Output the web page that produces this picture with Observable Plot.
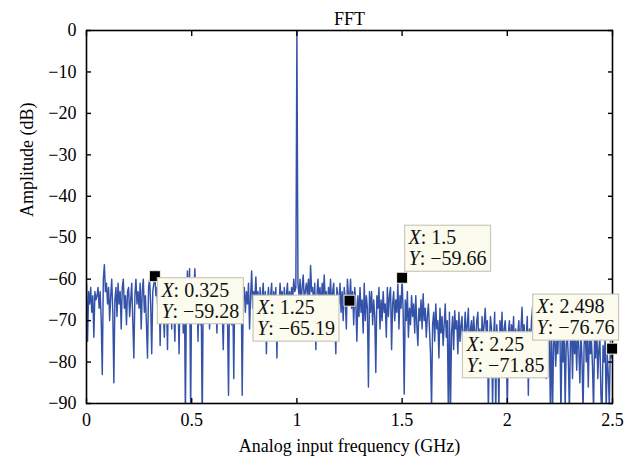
<!DOCTYPE html>
<html>
<head>
<meta charset="utf-8">
<script src="https://cdn.jsdelivr.net/npm/d3@7"></script>
<script src="https://cdn.jsdelivr.net/npm/@observablehq/plot@0.6"></script>
<style>
  body { margin: 0; background: #fff; }
  #chart svg { display: block; }
</style>
</head>
<body>
<div id="chart"></div>
<script>
// ---------- data ----------
const chartTitle = "FFT";
const xLabel = "Analog input frequency (GHz)";
const yLabel = "Amplitude (dB)";
const xTicks = [0, 0.5, 1, 1.5, 2, 2.5];
const yTicks = [0, -10, -20, -30, -40, -50, -60, -70, -80, -90];

// FFT bin spacing (GHz) of the values below, starting at 0 GHz
const binStep = 0.005;
// amplitude (dB) per bin
const amplitude = [
  -61, -75, -63, -66, -62, -68, -64, -74, -63, -65,
  -64, -62, -67, -63, -70, -83, -60, -56.5, -63, -61,
  -66, -62, -70, -64, -60, -68, -85, -65, -62, -69,
  -61, -66, -63, -72, -62, -60, -67, -64, -71, -63,
  -62, -69, -65, -61, -70, -79, -64, -60, -66, -63,
  -67, -61, -72, -63, -60, -68, -64, -71, -79, -62,
  -60, -66, -78, -63, -61, -59.28, -64, -62, -69, -61,
  -76, -63, -60, -68, -74, -62, -65, -77, -61, -66,
  -63, -72, -60, -67, -75, -62, -69, -64, -78, -61,
  -66, -62, -73, -60, -93, -64, -58, -70, -57.5, -92,
  -61, -68, -63, -57.5, -66, -62, -75, -60, -71, -64,
  -95, -62, -67, -61, -70, -63, -66, -72, -62, -65,
  -63, -68, -61, -66, -73, -62, -64, -70, -60, -67,
  -77, -63, -65, -61, -69, -88, -62, -66, -71, -63,
  -84, -61, -67, -64, -62, -70, -65, -60, -88, -64,
  -62, -68, -63, -66, -61, -72, -64, -58, -67, -63,
  -65, -59.5, -66, -63, -70, -62, -67, -64, -61, -69,
  -63, -78, -65, -62, -68, -64, -61, -70, -63, -66,
  -62, -79, -64, -67, -61, -65, -63, -69, -62, -66,
  -64, -61, -67, -63, -66, -62, -65, -60, -63, -62,
  0, -61, -64, -60, -66, -62, -59, -65, -63, -61,
  -64, -60, -66, -56.7, -63, -62, -67, -61, -77, -64,
  -60, -65, -62, -68, -61, -64, -59, -66, -63, -70,
  -62, -65, -60, -67, -63, -61, -69, -78, -62, -64,
  -66, -61, -68, -63, -70, -62, -65, -72, -60, -64,
  -65.19, -60, -67, -63, -71, -62, -66, -75, -64, -69,
  -62, -68, -65, -73, -61, -70, -64, -67, -86, -63,
  -68, -63, -71, -65, -69, -82.5, -64, -67, -62, -72,
  -65, -70, -63, -68, -66, -74, -62, -69, -64, -62,
  -77, -66, -63, -70, -65, -68, -61, -72, -64, -67,
  -59.66, -68, -87.7, -65, -70, -63, -74, -67, -71, -64,
  -69, -66, -73, -64, -71, -76, -67, -70, -65, -72,
  -63.5, -70, -67, -74, -69, -66, -72, -78, -91, -71,
  -68, -75, -66, -72, -70, -79, -67, -73, -69, -76,
  -71, -66, -74, -70, -93, -68, -92, -73, -69, -77,
  -67.6, -72, -70, -78, -68, -75, -71, -69, -80, -73,
  -68, -74, -71, -67, -79, -72, -70, -76, -69, -73,
  -75, -70, -68, -77, -72, -81, -69, -74, -71, -67,
  -73, -70, -92, -75, -69, -72, -91, -74, -68, -93,
  -71, -76, -92, -70, -74, -68, -79, -72, -70, -75,
  -92, -73, -70, -78, -71, -74, -69, -80, -72, -76,
  -73, -70, -78, -72, -66.8, -75, -71, -82, -74, -69,
  -88, -72, -77, -70, -66.8, -79, -74, -71, -83, -73,
  -67, -76, -72, -80, -70, -78, -74, -84, -71, -77,
  -73, -93, -70, -92, -76, -72, -81, -75, -78, -71,
  -71.85, -93, -74, -80, -70, -91, -76, -73, -79, -92,
  -75, -72, -84, -70, -78, -74, -82, -71, -77, -85,
  -73, -79, -92, -76, -71, -80, -74, -86, -72, -78,
  -75, -81, -92, -73, -79, -70, -84, -77, -74, -88,
  -93, -76, -80, -74, -92, -78, -83, -91, -75, -79
];
// last plotted bin
const lastFreq = 2.498;
const lastAmp = -76.76;

// data tips
const tipX = [0.325, 1.25, 1.5, 2.25, 2.498];
const tipY = [-59.28, -65.19, -59.66, -71.85, -76.76];

// ---------- layout / style ----------
const FONT = "Liberation Serif";
const LINE_COLOR = "#3452a8";
// box placement relative to the marker (pixels)
const tipLayout = [
  {h: "left",  dx: 3,   v: "top",    dy: 2},
  {h: "right", dx: -10, v: "top",    dy: -5},
  {h: "left",  dx: 3,   v: "bottom", dy: -6},
  {h: "right", dx: -11, v: "top",    dy: 4},
  {h: "right", dx: 7,   v: "bottom", dy: -8}
];

const series = amplitude.map((a, i) => ({f: +(i * binStep).toFixed(4), a}));
series.push({f: lastFreq, a: lastAmp});
const tips = tipX.map((x, i) => ({x, y: tipY[i]}));

const fmt = v => String(v).replace("-", "\u2212");
const ctx = document.createElement("canvas").getContext("2d");
const TIP_FS = 20;
function textW(str, italic) {
  ctx.font = `${italic ? "italic " : ""}${TIP_FS}px "${FONT}"`;
  return ctx.measureText(str).width;
}

function tipBoxes(index, scales) {
  const g = d3.create("svg:g")
    .attr("font-family", FONT).attr("font-size", TIP_FS).attr("text-anchor", "start");
  tips.forEach((t, i) => {
    const mx = scales.x(t.x), my = scales.y(t.y);
    const lines = [["X", ": " + fmt(t.x)], ["Y", ": " + fmt(t.y)]];
    const padX = 4;
    const w = Math.max(...lines.map(([a, b]) => textW(a, true) + textW(b, false))) + 2 * padX;
    const h = 46;
    const L = tipLayout[i];
    const left = L.h === "left" ? mx + L.dx : mx + L.dx - w;
    const top = L.v === "top" ? my + L.dy : my + L.dy - h;
    const tg = g.append("g");
    tg.append("rect")
      .attr("x", left).attr("y", top).attr("width", w).attr("height", h)
      .attr("fill", "#fbfbee").attr("stroke", "#c8c8bd").attr("stroke-width", 1.2);
    lines.forEach(([a, b], k) => {
      const tx = tg.append("text")
        .attr("x", left + padX).attr("y", top + 19 + k * 21)
        .attr("text-anchor", "start").attr("fill", "#111");
      tx.append("tspan").attr("font-style", "italic").text(a);
      tx.append("tspan").text(b);
    });
  });
  return g.node();
}

const plot = Plot.plot({
  width: 632,
  height: 466,
  marginLeft: 86,
  marginRight: 20,
  marginTop: 30,
  marginBottom: 63,
  style: {fontFamily: FONT, fontSize: "18px", background: "#fff", color: "#000"},
  x: {domain: [0, 2.5]},
  y: {domain: [-90, 0]},
  marks: [
    Plot.line(series, {x: "f", y: "a", stroke: LINE_COLOR, strokeWidth: 1.45, clip: true}),
    Plot.frame({stroke: "#000", strokeWidth: 1.6}),
    // inward ticks on all four sides
    Plot.axisX({anchor: "bottom", ticks: xTicks, tickSize: -5, tickFormat: () => "", label: null, strokeWidth: 1.4}),
    Plot.axisX({anchor: "top", ticks: xTicks, tickSize: -5, tickFormat: () => "", label: null, strokeWidth: 1.4}),
    Plot.axisY({anchor: "left", ticks: yTicks, tickSize: -5, tickFormat: () => "", label: null, strokeWidth: 1.4}),
    Plot.axisY({anchor: "right", ticks: yTicks, tickSize: -5, tickFormat: () => "", label: null, strokeWidth: 1.4}),
    // tick labels
    Plot.axisX({anchor: "bottom", ticks: xTicks, tickSize: 0, tickPadding: 10, tickFormat: d => d3.format("")(d), label: null, fontVariant: "normal"}),
    Plot.axisY({anchor: "left", ticks: yTicks, tickSize: 0, tickPadding: 10, tickFormat: d => d3.format("")(d), label: null, fontVariant: "normal"}),
    // titles
    Plot.text([chartTitle], {frameAnchor: "top", dy: -18, fill: "#000"}),
    Plot.text([xLabel], {frameAnchor: "bottom", dy: 48, fill: "#000"}),
    Plot.text([yLabel], {frameAnchor: "left", dx: -59, rotate: -90, fill: "#000"}),
    // data tip markers and boxes
    Plot.dot(tips, {x: "x", y: "y", symbol: "square", r: 6.2, fill: "#000", stroke: "#f3f3dc", strokeWidth: 1}),
    tipBoxes
  ]
});
document.getElementById("chart").appendChild(plot);
</script>
</body>
</html>
